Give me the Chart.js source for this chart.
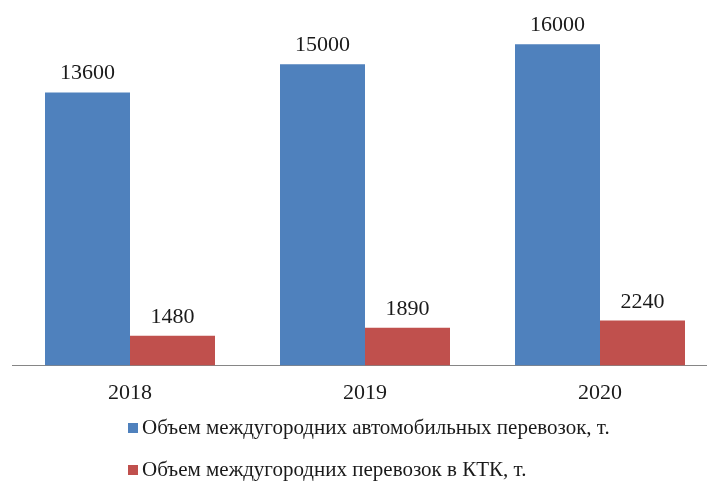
<!DOCTYPE html>
<html>
<head>
<meta charset="utf-8">
<script src="https://cdn.jsdelivr.net/npm/chart.js@4/dist/chart.umd.min.js"></script>
<style>
  html, body { margin: 0; padding: 0; background: #fff; overflow: hidden; }
  #wrap { width: 718px; height: 482px; }
</style>
</head>
<body>
<div id="wrap"><canvas id="c" width="718" height="482"></canvas></div>
<script>
const years = ['2018', '2019', '2020'];
const roadVolume = [13600, 15000, 16000];
const containerVolume = [1480, 1890, 2240];
const seriesNames = [
  'Объем междугородних автомобильных перевозок, т.',
  'Объем междугородних перевозок в КТК, т.'
];
const FONT = 'Liberation Serif, Times New Roman, serif';

// Value labels above each bar
const valueLabels = {
  id: 'valueLabels',
  afterDatasetsDraw(chart) {
    const ctx = chart.ctx;
    ctx.save();
    ctx.font = '22px ' + FONT;
    ctx.fillStyle = '#1a1a1a';
    ctx.textAlign = 'center';
    ctx.textBaseline = 'alphabetic';
    chart.data.datasets.forEach((ds, i) => {
      chart.getDatasetMeta(i).data.forEach((el, j) => {
        ctx.fillText(String(ds.data[j]), el.x, el.y - 13);
      });
    });
    ctx.restore();
  }
};

// Legend stacked in a left-aligned column below the axis
const columnLegend = {
  id: 'columnLegend',
  afterDraw(chart) {
    const ctx = chart.ctx;
    const left = 128;
    const rowY = [chart.height - 54, chart.height - 12];
    ctx.save();
    ctx.font = '21px ' + FONT;
    ctx.textBaseline = 'middle';
    ctx.textAlign = 'left';
    chart.data.datasets.forEach((ds, i) => {
      ctx.fillStyle = ds.backgroundColor;
      ctx.fillRect(left, rowY[i] - 5, 10, 10);
      ctx.fillStyle = '#1a1a1a';
      ctx.fillText(ds.label, left + 14, rowY[i]);
    });
    ctx.restore();
  }
};

new Chart(document.getElementById('c'), {
  type: 'bar',
  data: {
    labels: years,
    datasets: [
      { label: seriesNames[0], data: roadVolume, backgroundColor: '#4F81BD' },
      { label: seriesNames[1], data: containerVolume, backgroundColor: '#C0504D' }
    ]
  },
  options: {
    responsive: false,
    animation: false,
    layout: { padding: { left: 12.5, right: 0.5, top: 4, bottom: 62 } },
    datasets: { bar: { categoryPercentage: 0.7234, barPercentage: 1 } },
    plugins: { legend: { display: false }, tooltip: { enabled: false } },
    scales: {
      x: {
        grid: { display: false, drawTicks: false },
        border: { display: true, color: '#868686', width: 1 },
        ticks: { font: { family: FONT, size: 22 }, color: '#1a1a1a', padding: 14 }
      },
      y: { display: false, min: 0, max: 18000 }
    }
  },
  plugins: [valueLabels, columnLegend]
});
</script>
</body>
</html>
